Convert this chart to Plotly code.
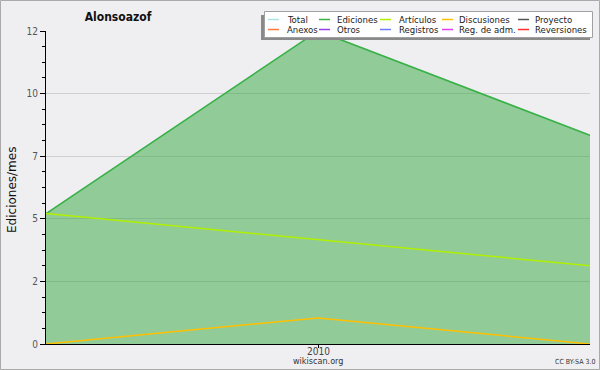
import plotly.graph_objects as go

# ---- data ----
periods = ["2009", "2010", "2011"]
tick_labels = ["2010"]
series_names = ["Total", "Ediciones", "Artículos", "Discusiones", "Proyecto",
                "Anexos", "Otros", "Registros", "Reg. de adm.", "Reversiones"]
series_colors = ["#a8e4e4", "#3cb043", "#b0f000", "#ffc000", "#555555",
                 "#ff7a3c", "#9a3cf0", "#6f7bff", "#e040f0", "#ff3030"]
total = [5, 12, 8]
ediciones = [5, 12, 8]
articulos = [5, 4, 3]
discusiones = [0, 1, 0]
y_tickvals = [0, 2.4, 4.8, 7.2, 9.6, 12]
y_ticktext = ["0", "2", "5", "7", "10", "12"]

values = {
    "Total": total,
    "Ediciones": ediciones,
    "Artículos": articulos,
    "Discusiones": discusiones,
}

BG = "#efeff1"
FONT = "DejaVu Sans"
FONT_C = "DejaVu Sans Condensed, DejaVu Sans"

# plot-area geometry (pixels)
L, R, T, B = 46, 590, 31, 344
W, H = R - L, B - T


def px(x):
    return (x - L) / W


def py(y):
    return (B - y) / H


fig = go.Figure()
for name, color in zip(series_names, series_colors):
    ys = values.get(name)
    if ys is None:
        continue
    kw = {}
    if name == "Ediciones":
        kw = dict(fill="tozeroy", fillcolor="rgba(49,167,63,0.5)")
    fig.add_trace(go.Scatter(
        x=periods, y=ys, name=name, mode="lines", showlegend=False,
        line=dict(color=color, width=1.5), **kw))

fig.update_layout(
    width=600, height=370,
    margin=dict(l=L, r=600 - R, t=T, b=370 - B, autoexpand=False),
    paper_bgcolor=BG, plot_bgcolor=BG,
    font=dict(family=FONT, size=10, color="#333"),
    title=dict(text="<b>Alonsoazof</b>", x=118 / 600, xref="container", xanchor="center",
               y=1 - 17 / 370, yref="container", yanchor="middle",
               font=dict(family=FONT_C, size=12, color="#111")),
    showlegend=False,
    xaxis=dict(type="category", range=[0, 2], tickmode="array", tickvals=[1], ticktext=tick_labels,
               showticklabels=False,
               showgrid=False, zeroline=False, showline=True, linecolor="black", linewidth=1,
               ticks="outside", ticklen=3, tickcolor="black", automargin=False),
    yaxis=dict(range=[0, 12], tickmode="array", tickvals=y_tickvals, ticktext=y_ticktext,
               showgrid=True, gridcolor="#cfcfd2", gridwidth=1, zeroline=False,
               showline=True, linecolor="black", linewidth=1, automargin=False,
               ticks="outside", ticklen=5, tickcolor="black",
               tickfont=dict(family=FONT_C, size=10, color="#555"),
               minor=dict(dtick=0.6, tick0=0, ticks="outside", ticklen=3, tickcolor="black",
                          showgrid=False)),
)

# x tick label (placed close to the axis, as in the reference)
fig.add_annotation(text=tick_labels[0], xref="paper", yref="paper",
                   x=0.5, y=py(351), showarrow=False,
                   xanchor="center", yanchor="middle",
                   font=dict(family=FONT_C, size=10, color="#444"))
fig.add_annotation(text="Ediciones/mes", xref="paper", yref="paper",
                   x=px(12), y=py(190), textangle=-90, showarrow=False,
                   xanchor="center", yanchor="middle",
                   font=dict(family=FONT, size=12, color="#111"))
fig.add_annotation(text="wikiscan.org", xref="paper", yref="paper",
                   x=0.5, y=py(361.5), showarrow=False,
                   xanchor="center", yanchor="middle",
                   font=dict(family=FONT_C, size=9, color="#333"))
fig.add_annotation(text="CC BY-SA 3.0", xref="paper", yref="paper",
                   x=px(575), y=py(362), showarrow=False,
                   xanchor="center", yanchor="middle",
                   font=dict(family=FONT_C, size=7, color="#333"))
# outer frame
fig.add_shape(type="rect", xref="paper", yref="paper",
              x0=px(0.5), x1=px(599.5), y0=py(369.5), y1=py(0.5),
              line=dict(color="#aaa", width=1), fillcolor="rgba(0,0,0,0)", layer="below")

# ---- legend box (shadow + white box) ----
fig.add_shape(type="rect", xref="paper", yref="paper",
              x0=px(261), x1=px(590), y0=py(40), y1=py(15),
              line=dict(width=0), fillcolor="#8a8a8a", layer="above")
fig.add_shape(type="rect", xref="paper", yref="paper",
              x0=px(264.5), x1=px(592.5), y0=py(37.5), y1=py(11.5),
              line=dict(color="#a0a0a0", width=1), fillcolor="white", layer="above")
col_swatch = [268, 319, 380, 442, 518]
col_text = [285, 335, 397, 457, 533]
row_y = [19.5, 29.5]
for i, (name, color) in enumerate(zip(series_names, series_colors)):
    r, c = divmod(i, 5)
    y = row_y[r]
    fig.add_shape(type="line", xref="paper", yref="paper",
                  x0=px(col_swatch[c]), x1=px(col_swatch[c] + 11), y0=py(y), y1=py(y),
                  line=dict(color=color, width=1.5), layer="above")
    fig.add_annotation(text=name, xref="paper", yref="paper",
                       x=px(col_text[c]), y=py(y), showarrow=False,
                       xanchor="left", yanchor="middle",
                       font=dict(family=FONT_C, size=9.5, color="#222"))

fig.write_html("out.html")
